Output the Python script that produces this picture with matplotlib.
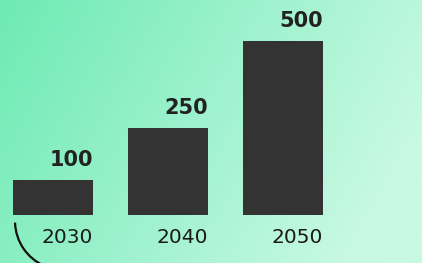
import matplotlib.pyplot as plt
from matplotlib.patches import Arc
import numpy as np

# datos del grafico
years = ['2030', '2040', '2050']
values = [100, 250, 500]

W, H, DPI = 422, 263, 100
fig = plt.figure(figsize=(W / DPI, H / DPI), dpi=DPI)

# fondo con degradado verde
bg = fig.add_axes([0, 0, 1, 1])
bg.axis('off')
gx, gy = np.meshgrid(np.linspace(0, 1, 200), np.linspace(0, 1, 130))
t = np.clip(0.85 * gx + 0.3 * gy, 0, 1)
c0 = np.array([110, 234, 180]) / 255
c1 = np.array([200, 249, 227]) / 255
img = c0[None, None, :] * (1 - t[..., None]) + c1[None, None, :] * t[..., None]
bg.imshow(img, extent=[0, 1, 0, 1], origin='upper', aspect='auto')
bg.set_xlim(0, 1)
bg.set_ylim(0, 1)

# ejes de las barras
ax = fig.add_axes([0, 0, 1, 1])
ax.patch.set_alpha(0)
ax.axis('off')
width = 80 / 115
x = np.arange(len(years))
ax.bar(x, values, width=width, color='#333333')
ax.set_xlim(-53 / 115, (W - 53) / 115)
scale = 173.7 / 500
base = H - 214.6
ax.set_ylim(-base / scale, (H - base) / scale)

px = 72 / DPI
for i, (yr, v) in enumerate(zip(years, values)):
    ax.annotate(str(v), xy=(i + width / 2, v), xytext=(0, 20 * px),
                textcoords='offset points', ha='right', va='center',
                fontsize=15, fontweight='bold', color='#222222')
    ax.annotate(yr, xy=(i + width / 2, 0), xytext=(0, -23 * px),
                textcoords='offset points', ha='right', va='center',
                fontsize=14.5, color='#1a1a1a')

# arco decorativo abajo a la izquierda
r = 49
arc = Arc((64 / W, 1 - 221 / H), 2 * r / W, 2 * r / H, theta1=183, theta2=255,
          transform=fig.transFigure, color='#111111', lw=1.6)
fig.add_artist(arc)

fig.savefig('out.png', dpi=DPI)
